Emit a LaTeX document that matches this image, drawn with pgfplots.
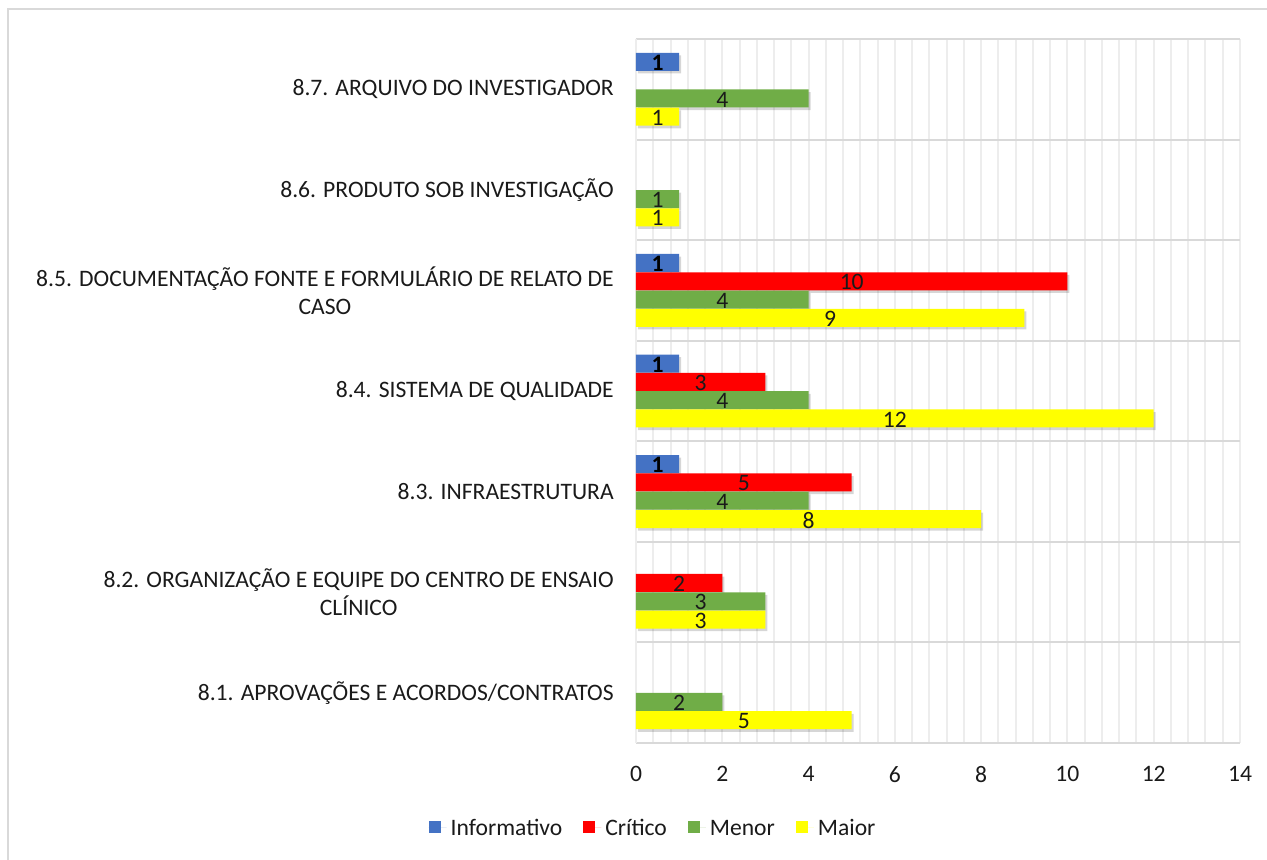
\documentclass[border=0pt]{standalone}
\usepackage{fontspec}
\setmainfont{Carlito}
\usepackage{pgfplots}
\pgfplotsset{compat=1.18}
\usepackage{pgfplotstable}

\definecolor{cInf}{HTML}{4472C4}
\definecolor{cCrit}{HTML}{FF0000}
\definecolor{cMen}{HTML}{70AD47}
\definecolor{cMai}{HTML}{FFFF00}
\definecolor{cTxt}{HTML}{1A1A1A}
\definecolor{cGridV}{HTML}{EDEDED}
\definecolor{cGridH}{HTML}{D9D9D9}

\newcommand\lbl{\fontsize{11.8}{14}\selectfont}

% y: category index (0 = 8.7 at the top); nan = no finding
\pgfplotstableread{
y inf crit men mai
0 1   nan  4  1
1 nan nan  1  1
2 1   10   4  9
3 1   3    4  12
4 1   5    4  8
5 nan 2    3  3
6 nan nan  2  5
}\achados

\begin{document}
\begin{tikzpicture}
\useasboundingbox (-318pt,-58.5pt) rectangle (315.5pt,371.5pt);
\draw[cGridH, line width=1pt] (-314pt,-60pt) -- (-314pt,367pt) -- (318pt,367pt);
\begin{axis}[
  at={(0,0)}, anchor=south west,
  width=302pt, height=352pt, scale only axis,
  xmin=0, xmax=14, ymin=-0.5, ymax=6.5, y dir=reverse,
  /pgf/number format/assume math mode=true,
  xtick={0,2,...,14}, minor x tick num=4,
  ytick={0,...,6},
  minor ytick={-0.5,0.5,...,6.5},
  yticklabels={{8.7. ARQUIVO DO INVESTIGADOR},{8.6. PRODUTO SOB INVESTIGAÇÃO},{8.5. DOCUMENTAÇÃO FONTE E FORMULÁRIO DE RELATO DE\\CASO},{8.4. SISTEMA DE QUALIDADE},{8.3. INFRAESTRUTURA},{8.2. ORGANIZAÇÃO E EQUIPE DO CENTRO DE ENSAIO\\CLÍNICO},{8.1. APROVAÇÕES E ACORDOS/CONTRATOS}},
  yticklabel style={align=center, font=\lbl, text=cTxt, xshift=-7.6pt},
  xticklabel style={font=\lbl, text=cTxt, yshift=-8pt},
  major tick length=0pt, minor tick length=0pt,
  xmajorgrids, xminorgrids, yminorgrids,
  x grid style={draw=cGridV, line width=1pt},
  y grid style={draw=cGridH, line width=1pt},
  axis line style={draw=none},
  extra x ticks={0}, extra x tick labels={},
  extra x tick style={grid=major, major grid style={draw=cGridH, line width=1pt}},
  legend columns=4,
  legend style={draw=none, at={(0.03,-0.12)}, anchor=center, font=\lbl, text=cTxt,
    /tikz/every even column/.append style={column sep=8.5pt}},
  legend image code/.code={\fill[#1] (0pt,-3pt) rectangle (6pt,3pt); \path (0pt,0pt) -- (9pt,0pt);},
]
% soft shadows under the bars
\addplot[xbar, bar width=9pt, bar shift=0pt, draw=none, fill=black, fill opacity=0.16, forget plot, xshift=1pt, yshift=-1.3pt] table[x=inf, y expr=\thisrow{y}-0.273] {\achados};
\addplot[xbar, bar width=9pt, bar shift=0pt, draw=none, fill=black, fill opacity=0.16, forget plot, xshift=1pt, yshift=-1.3pt] table[x=crit, y expr=\thisrow{y}-0.091] {\achados};
\addplot[xbar, bar width=9pt, bar shift=0pt, draw=none, fill=black, fill opacity=0.16, forget plot, xshift=1pt, yshift=-1.3pt] table[x=men, y expr=\thisrow{y}+0.091] {\achados};
\addplot[xbar, bar width=9pt, bar shift=0pt, draw=none, fill=black, fill opacity=0.16, forget plot, xshift=1pt, yshift=-1.3pt] table[x=mai, y expr=\thisrow{y}+0.273] {\achados};

% bars
\addplot[xbar, bar width=9pt, bar shift=0pt, draw=none, fill=cInf] table[x=inf, y expr=\thisrow{y}-0.273] {\achados};
\addlegendentry{Informativo\strut}
\addplot[xbar, bar width=9pt, bar shift=0pt, draw=none, fill=cCrit] table[x=crit, y expr=\thisrow{y}-0.091] {\achados};
\addlegendentry{Crítico\strut}
\addplot[xbar, bar width=9pt, bar shift=0pt, draw=none, fill=cMen] table[x=men, y expr=\thisrow{y}+0.091] {\achados};
\addlegendentry{Menor\strut}
\addplot[xbar, bar width=9pt, bar shift=0pt, draw=none, fill=cMai] table[x=mai, y expr=\thisrow{y}+0.273] {\achados};
\addlegendentry{Maior\strut}

% value labels centred in each bar
\addplot[only marks, mark=*, mark size=0pt, mark options={draw=none, fill=none}, forget plot,
  nodes near coords, point meta=explicit,
  nodes near coords style={anchor=center, inner sep=0pt, yshift=-0.5pt, font=\lbl\bfseries, text=black}]
  table[x expr=\thisrow{inf}/2, y expr=\thisrow{y}-0.273, meta=inf] {\achados};
\addplot[only marks, mark=*, mark size=0pt, mark options={draw=none, fill=none}, forget plot,
  nodes near coords, point meta=explicit,
  nodes near coords style={anchor=center, inner sep=0pt, yshift=-0.5pt, font=\lbl, text=cTxt}]
  table[x expr=\thisrow{crit}/2, y expr=\thisrow{y}-0.091, meta=crit] {\achados};
\addplot[only marks, mark=*, mark size=0pt, mark options={draw=none, fill=none}, forget plot,
  nodes near coords, point meta=explicit,
  nodes near coords style={anchor=center, inner sep=0pt, yshift=-0.5pt, font=\lbl, text=cTxt}]
  table[x expr=\thisrow{men}/2, y expr=\thisrow{y}+0.091, meta=men] {\achados};
\addplot[only marks, mark=*, mark size=0pt, mark options={draw=none, fill=none}, forget plot,
  nodes near coords, point meta=explicit,
  nodes near coords style={anchor=center, inner sep=0pt, yshift=-0.5pt, font=\lbl, text=cTxt}]
  table[x expr=\thisrow{mai}/2, y expr=\thisrow{y}+0.273, meta=mai] {\achados};
\end{axis}
\end{tikzpicture}
\end{document}
